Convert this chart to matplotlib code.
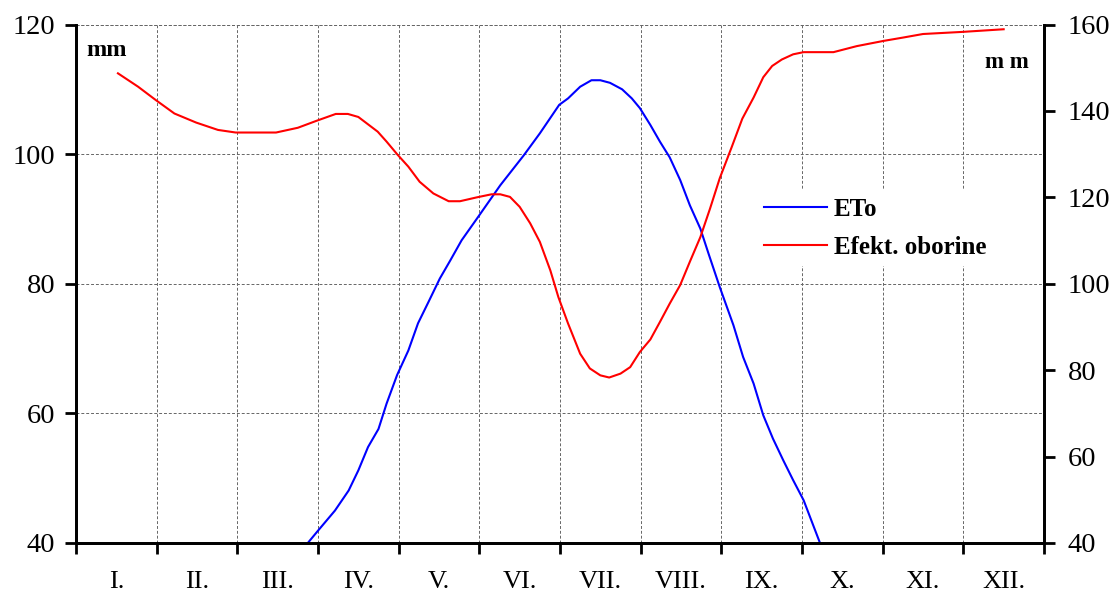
import matplotlib
matplotlib.use('Agg')
import matplotlib.pyplot as plt

plt.rcParams['font.family'] = ['Liberation Serif', 'DejaVu Serif']

months = ['I.', 'II.', 'III.', 'IV.', 'V.', 'VI.', 'VII.', 'VIII.', 'IX.', 'X.', 'XI.', 'XII.']

# ETo (left axis), x in months from start of year
eto_x = [2.88, 3.00, 3.21, 3.38, 3.50, 3.62, 3.75, 3.85, 3.98, 4.12, 4.24, 4.37,
         4.51, 4.64, 4.78, 4.99, 5.26, 5.55, 5.75, 5.99, 6.10, 6.25, 6.39, 6.50,
         6.62, 6.77, 6.89, 6.99, 7.12, 7.24, 7.36, 7.49, 7.61, 7.74, 7.84, 7.98,
         8.15, 8.27, 8.40, 8.52, 8.64, 8.77, 8.89, 9.02, 9.22]
eto_y = [40.1, 41.9, 45.0, 48.1, 51.2, 54.8, 57.6, 61.5, 65.9, 69.7, 73.9, 77.2,
         80.8, 83.6, 86.7, 90.4, 95.2, 99.8, 103.2, 107.6, 108.6, 110.4, 111.4, 111.4,
         111.0, 110.0, 108.6, 107.1, 104.5, 101.9, 99.5, 96.0, 92.1, 88.5, 84.7, 79.5,
         73.6, 68.7, 64.6, 59.7, 56.1, 52.7, 49.7, 46.6, 40.1]

# Efektivne oborine (right axis)
ef_x = [0.52, 0.77, 0.99, 1.22, 1.49, 1.76, 1.98, 2.23, 2.48, 2.75, 2.98, 3.22,
        3.37, 3.50, 3.74, 3.85, 3.98, 4.12, 4.26, 4.43, 4.62, 4.76, 4.97, 5.15,
        5.26, 5.38, 5.50, 5.63, 5.75, 5.88, 5.98, 6.10, 6.25, 6.37, 6.50, 6.61,
        6.75, 6.87, 6.99, 7.12, 7.24, 7.36, 7.49, 7.61, 7.74, 7.86, 7.98, 8.13,
        8.26, 8.40, 8.52, 8.63, 8.75, 8.89, 9.02, 9.39, 9.68, 10.01, 10.26, 10.50,
        11.00, 11.50]
ef_y = [148.7, 145.6, 142.5, 139.4, 137.3, 135.6, 135.0, 135.0, 135.0, 136.1, 137.7, 139.3,
        139.3, 138.6, 135.2, 132.9, 130.0, 127.1, 123.6, 120.9, 119.1, 119.1, 120.0, 120.7,
        120.7, 120.1, 117.8, 114.0, 109.7, 103.1, 96.9, 90.8, 83.8, 80.4, 78.8, 78.3,
        79.2, 80.7, 84.2, 87.1, 91.2, 95.4, 99.7, 105.1, 110.8, 117.4, 124.4, 131.7,
        138.2, 143.1, 147.8, 150.4, 151.9, 153.1, 153.6, 153.6, 155.0, 156.2, 157.0, 157.8,
        158.3, 158.9]

fig = plt.figure(figsize=(11.12, 5.98), dpi=100)
ax = fig.add_axes([76/1112, 1-543/598, 968/1112, 518.5/598])
ax2 = ax.twinx()

l1, = ax.plot(eto_x, eto_y, color='#0000FF', lw=1.5, label='ETo')
l2, = ax2.plot(ef_x, ef_y, color='#FF0000', lw=1.5, label='Efekt. oborine')

ax.set_xlim(0, 12)
ax.set_ylim(40, 120)
ax2.set_ylim(40, 160)
ax.set_yticks([40, 60, 80, 100, 120])
ax2.set_yticks([40, 60, 80, 100, 120, 140, 160])

ax.set_xticks(range(13))
ax.set_xticklabels([])
ax.set_xticks([i + 0.5 for i in range(12)], minor=True)
ax.set_xticklabels(months, minor=True)
ax.tick_params(axis='x', which='minor', length=0, pad=20, labelsize=19)
ax.tick_params(axis='x', which='major', direction='out', length=8, width=2)
ax.tick_params(axis='y', direction='out', length=8, width=2, pad=7, labelsize=20.5)
ax2.tick_params(axis='y', direction='out', length=8, width=2, pad=9, labelsize=20.5)

for a in (ax, ax2):
    a.spines['top'].set_visible(False)
    for s in ('left', 'right', 'bottom'):
        a.spines[s].set_linewidth(2)

# dashed grid, including line at top
ax.grid(True, which='major', color='#666666', linestyle=(0, (3, 2)), lw=0.7)
ax.set_axisbelow(True)
ax.axhline(120, color='#666666', linestyle=(0, (3, 2)), lw=0.7, clip_on=False)

fig.text(86/1112, 1-56/598, 'mm', fontsize=17.5, fontweight='bold', va='baseline')
fig.text(1029/1112, 1-68/598, 'm m', fontsize=16.5, fontweight='bold', ha='right', va='baseline')

leg = ax2.legend(handles=[l1, l2], loc='center left', bbox_to_anchor=(756.5/1112, 370/598),
                 bbox_transform=fig.transFigure, borderaxespad=0, borderpad=0.3,
                 frameon=True, fancybox=False, edgecolor='none', facecolor='white',
                 framealpha=1, handlelength=2.5, handletextpad=0.3, labelspacing=0.6,
                 prop={'weight': 'bold', 'size': 18})

fig.savefig('out.png', dpi=100)
